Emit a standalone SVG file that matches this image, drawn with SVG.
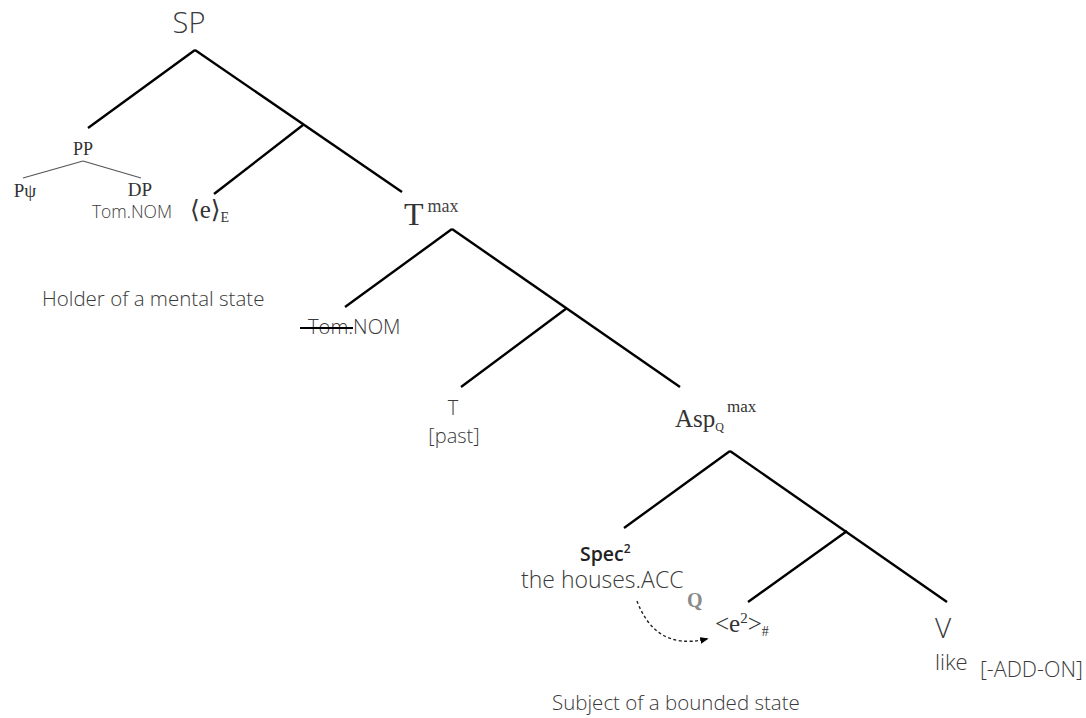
<svg xmlns="http://www.w3.org/2000/svg" width="1086" height="718" viewBox="0 0 1086 718">
  <style>
    .sans { font-family: "Open Sans", "Liberation Sans", sans-serif; font-weight: 300; fill: #3a3a3a; }
    .serif { font-family: "Liberation Serif", "DejaVu Serif", serif; fill: #333333; }
    .edge { stroke: #000; stroke-width: 2.4; fill: none; stroke-linecap: butt; }
    .thin { stroke: #555; stroke-width: 1.2; fill: none; }
  </style>
  <defs>
    <marker id="arr" viewBox="0 0 10 10" refX="8" refY="5" markerWidth="6" markerHeight="6" orient="auto">
      <path d="M0,1 L10,5 L0,9 z" fill="#000"/>
    </marker>
  </defs>
  <rect width="1086" height="718" fill="#ffffff"/>

  <!-- tree branches -->
  <g id="connectors">
    <line class="edge" x1="195" y1="50" x2="88" y2="128"/>
    <line class="edge" x1="195" y1="50" x2="402" y2="192"/>
    <line class="edge" x1="303" y1="125" x2="214" y2="194"/>
    <line class="edge" x1="452" y1="229" x2="345" y2="307"/>
    <line class="edge" x1="452" y1="229" x2="680" y2="387"/>
    <line class="edge" x1="567" y1="308" x2="461" y2="387"/>
    <line class="edge" x1="730" y1="451" x2="624" y2="528"/>
    <line class="edge" x1="730" y1="451" x2="947" y2="602"/>
    <line class="edge" x1="847" y1="531" x2="748" y2="602"/>
    <line class="thin" x1="83" y1="161" x2="23" y2="178"/>
    <line class="thin" x1="83" y1="161" x2="141" y2="178"/>
    <!-- movement arrow from Spec to its trace -->
    <path d="M637,601 C648,630 668,648 707,639" stroke="#222" stroke-width="1.4" stroke-dasharray="3,2.5" fill="none" marker-end="url(#arr)"/>
  </g>

  <g id="node-sp">
    <text class="sans" x="189" y="33" font-size="29" text-anchor="middle">SP</text>
  </g>
  <g id="node-pp">
    <text class="serif" x="83" y="155" font-size="18" text-anchor="middle">PP</text>
  </g>
  <g id="node-ppsi">
    <text class="serif" x="25" y="197" font-size="19" text-anchor="middle">Pψ</text>
  </g>
  <g id="node-dp">
    <text class="serif" x="140" y="196" font-size="19" text-anchor="middle">DP</text>
    <text class="sans" x="132" y="218" font-size="17.5" text-anchor="middle">Tom.NOM</text>
  </g>
  <g id="node-e">
    <text class="serif" x="190" y="218" font-size="25">⟨e⟩<tspan font-size="14" dy="4">E</tspan></text>
  </g>
  <g id="node-tmax">
    <text class="serif" x="404" y="225" font-size="32">T<tspan font-size="18" dy="-13" dx="4" fill="#444">max</tspan></text>
  </g>
  <g id="node-holder">
    <text class="sans" x="42" y="306" font-size="20.5">Holder of a mental state</text>
  </g>
  <g id="node-tomnom">
    <text class="sans" x="308" y="334" font-size="20.2">Tom.NOM</text>
    <line x1="300" y1="328" x2="353" y2="328" stroke="#000" stroke-width="1.8"/>
  </g>
  <g id="node-t">
    <text class="sans" x="453" y="415" font-size="20" text-anchor="middle">T</text>
    <text class="sans" x="454" y="443" font-size="20" text-anchor="middle">[past]</text>
  </g>
  <g id="node-aspq">
    <text class="serif" x="675" y="427" font-size="25">Asp<tspan font-size="12" dy="4">Q</tspan><tspan font-size="17" dy="-19" dx="3">max</tspan></text>
  </g>
  <g id="node-spec">
    <text class="sans" x="580" y="561" font-size="19.5" style="font-weight:600;fill:#222">Spec<tspan font-size="12" dy="-8">2</tspan></text>
    <text class="sans" x="521" y="588" font-size="23">the houses.ACC</text>
    <text x="687" y="607" font-size="20" font-family="Liberation Serif, serif" font-weight="bold" fill="#8a8a8a">Q</text>
  </g>
  <g id="node-e2">
    <text class="serif" x="715" y="632" font-size="25" fill="#111">&lt;e<tspan font-size="15" dy="-9">2</tspan><tspan dy="9">&gt;</tspan><tspan font-size="14" dy="4">#</tspan></text>
  </g>
  <g id="node-v">
    <text class="sans" x="943" y="638" font-size="28" text-anchor="middle">V</text>
    <text class="sans" x="935" y="670" font-size="22">like</text>
    <text class="sans" x="980" y="677" font-size="21.5">[-ADD-ON]</text>
  </g>
  <g id="node-subject">
    <text class="sans" x="552" y="710" font-size="20.5">Subject of a bounded state</text>
  </g>
</svg>
